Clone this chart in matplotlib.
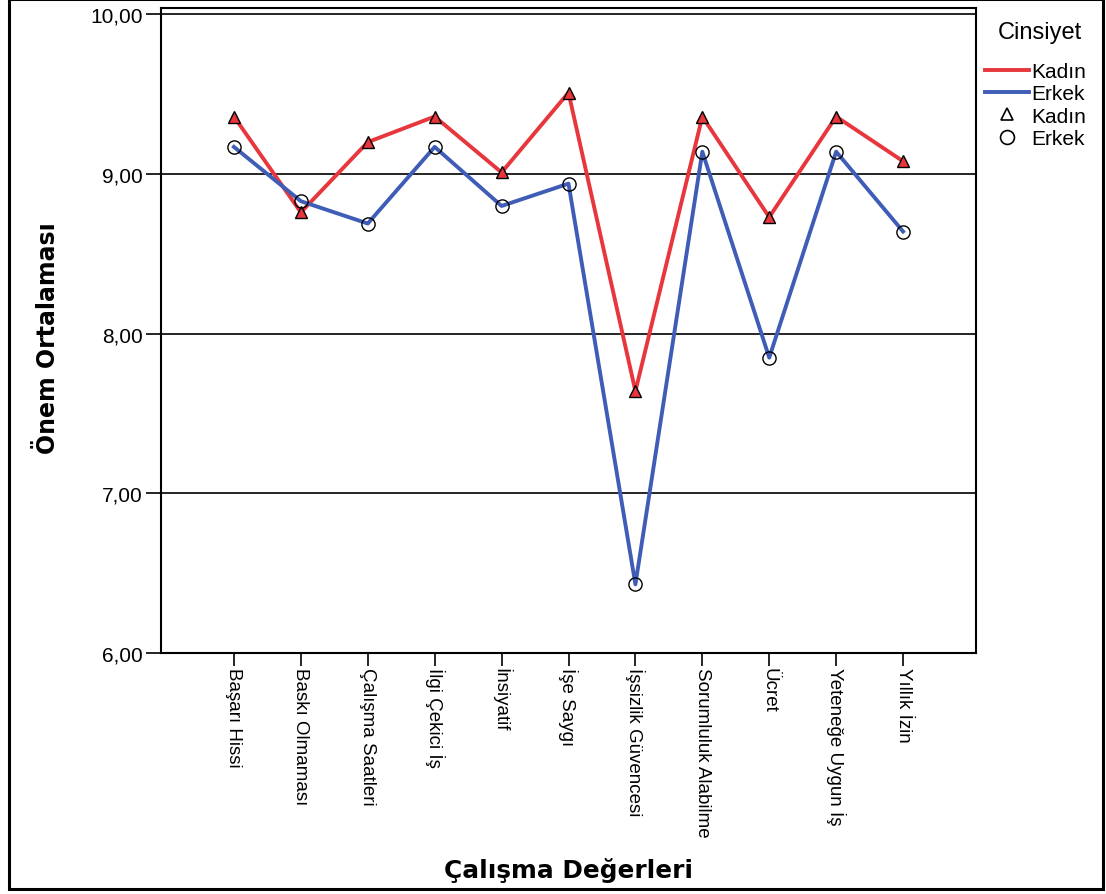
'''
Çalışma değerleri önem ortalaması, cinsiyete göre
'''

import matplotlib
matplotlib.use('Agg')
from matplotlib import pyplot as plt
from matplotlib.lines import Line2D
from matplotlib.patches import Rectangle
from matplotlib.ticker import FuncFormatter

categories = ['Başarı Hissi', 'Baskı Olmaması', 'Çalışma Saatleri', 'İlgi Çekici İş',
              'İnsiyatif', 'İşe Saygı', 'İşsizlik Güvencesi', 'Sorumluluk Alabilme',
              'Ücret', 'Yeteneğe Uygun İş', 'Yıllık İzin']
kadin = [9.36, 8.76, 9.20, 9.36, 9.01, 9.51, 7.64, 9.36, 8.73, 9.36, 9.08]
erkek = [9.17, 8.83, 8.69, 9.17, 8.80, 8.94, 6.43, 9.14, 7.85, 9.14, 8.64]
y_ticks = [6, 7, 8, 9, 10]

red = '#e8363d'
blue = '#3f5db6'
tick_font = 'Liberation Sans'

W, H = 1106, 895
fig = plt.figure(figsize=(W / 100, H / 100), dpi=100)
ax = fig.add_axes([161 / W, 1 - 654 / H, (976 - 161) / W, (654 - 9) / H])

x = list(range(len(categories)))

# lines first, then markers on top
ax.plot(x, kadin, color=red, lw=2.8, zorder=3)
ax.plot(x, erkek, color=blue, lw=2.8, zorder=3)
ax.plot(x, kadin, ls='none', marker='^', ms=8.5, mfc=red, mec='black', mew=1.0, zorder=4)
ax.plot(x, erkek, ls='none', marker='o', ms=9.5, mfc='none', mec='black', mew=1.0, zorder=4)

# gridlines
for v in y_ticks[1:]:
    ax.axhline(v, color='black', lw=1.2, zorder=2)

ax.set_xlim(-1.09, len(categories) - 1 + 1.09)
ax.set_ylim(6, 10.04)
ax.set_yticks(y_ticks)
ax.yaxis.set_major_formatter(FuncFormatter(lambda v, p: '{:.2f}'.format(v).replace('.', ',')))
ax.set_xticks(x)
ax.set_xticklabels(categories, rotation=270, ha='center', va='top',
                   fontsize=13.5, family=tick_font)
for lab in ax.get_yticklabels():
    lab.set_fontsize(15)
    lab.set_family(tick_font)

ax.tick_params(axis='y', length=11, width=1.2, pad=2, color='black')
ax.tick_params(axis='x', length=9, width=1.2, pad=1, color='black')
for s in ax.spines.values():
    s.set_linewidth(1.5)
    s.set_color('black')

ax.set_ylabel('Önem Ortalaması', fontsize=17, fontweight='bold', family='DejaVu Sans')
ax.set_xlabel('Çalışma Değerleri', fontsize=17.8, fontweight='bold', family='DejaVu Sans')
ax.yaxis.set_label_coords(-0.139, 0.49)
ax.yaxis.label.set_va('center')
ax.xaxis.set_label_coords(0.5, -0.335)
ax.xaxis.label.set_va('center')

# legend
fig.text(1040 / W, 1 - 33 / H, 'Cinsiyet', fontsize=17, family=tick_font,
         ha='center', va='center')
handles = [
    Line2D([], [], color=red, lw=2.8),
    Line2D([], [], color=blue, lw=2.8),
    Line2D([], [], ls='none', marker='^', ms=9, mfc='none', mec='black', mew=1.2),
    Line2D([], [], ls='none', marker='o', ms=10, mfc='none', mec='black', mew=1.2),
]
fig.legend(handles, ['Kadın', 'Erkek', 'Kadın', 'Erkek'], loc='upper left',
           bbox_to_anchor=(985 / W, 1 - 63 / H), frameon=False, borderpad=0,
           borderaxespad=0, handlelength=2.1, handletextpad=0.12, labelspacing=0.16,
           prop={'family': tick_font, 'size': 15})

# outer frame
fig.patches.append(Rectangle((9 / W, 1 - 890 / H), (1103 - 9) / W, 890 / H,
                             transform=fig.transFigure, fill=False, lw=2.2,
                             edgecolor='black'))

fig.savefig('out.png', dpi=100)
